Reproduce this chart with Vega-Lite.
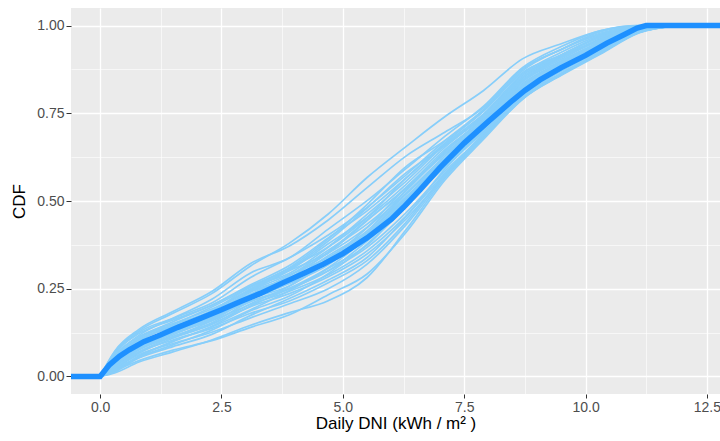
{
  "$schema": "https://vega.github.io/schema/vega-lite/v6.json",
  "width": 649,
  "height": 386,
  "autosize": "none",
  "padding": {"left": 71, "top": 8, "right": 0, "bottom": 47},
  "background": "white",
  "config": {"view": {"fill": "#EBEBEB", "stroke": null}},
  "datasets": {
    "mean": [
      {"x": -1, "y": 0}, {"x": 0, "y": 0}, {"x": 0.19, "y": 0.033}, {"x": 0.4, "y": 0.058}, {"x": 0.6, "y": 0.076},
      {"x": 0.9, "y": 0.099}, {"x": 1.25, "y": 0.119}, {"x": 1.6, "y": 0.14}, {"x": 2.0, "y": 0.162}, {"x": 2.5, "y": 0.19},
      {"x": 2.88, "y": 0.213}, {"x": 3.29, "y": 0.236}, {"x": 3.75, "y": 0.266}, {"x": 4.2, "y": 0.294}, {"x": 4.6, "y": 0.32},
      {"x": 5.0, "y": 0.35}, {"x": 5.5, "y": 0.395}, {"x": 6.0, "y": 0.448}, {"x": 6.25, "y": 0.482}, {"x": 6.59, "y": 0.532},
      {"x": 7.0, "y": 0.595}, {"x": 7.5, "y": 0.665}, {"x": 8.0, "y": 0.727}, {"x": 8.5, "y": 0.787}, {"x": 8.75, "y": 0.815},
      {"x": 9.06, "y": 0.845}, {"x": 9.5, "y": 0.88}, {"x": 10.0, "y": 0.915}, {"x": 10.44, "y": 0.95}, {"x": 10.78, "y": 0.973},
      {"x": 11.06, "y": 0.993}, {"x": 11.25, "y": 1.0}, {"x": 13.5, "y": 1.0}
    ],
    "lines": [
      {"g":"A","x":0,"y":0},{"g":"A","x":0.3,"y":0.07},{"g":"A","x":0.8,"y":0.13},{"g":"A","x":1.5,"y":0.18},{"g":"A","x":2.3,"y":0.236},{"g":"A","x":3.1,"y":0.315},{"g":"A","x":3.9,"y":0.38},{"g":"A","x":4.7,"y":0.463},{"g":"A","x":5.5,"y":0.567},{"g":"A","x":6.3,"y":0.655},{"g":"A","x":7.1,"y":0.74},{"g":"A","x":7.9,"y":0.815},{"g":"A","x":8.7,"y":0.905},{"g":"A","x":9.5,"y":0.948},{"g":"A","x":10.3,"y":0.985},{"g":"A","x":11.1,"y":1.0},{"g":"A","x":11.9,"y":1},
      {"g":"B","x":0,"y":0},{"g":"B","x":0.3,"y":0.01},{"g":"B","x":0.8,"y":0.041},{"g":"B","x":1.5,"y":0.07},{"g":"B","x":2.3,"y":0.104},{"g":"B","x":3.1,"y":0.146},{"g":"B","x":3.9,"y":0.182},{"g":"B","x":4.7,"y":0.216},{"g":"B","x":5.5,"y":0.282},{"g":"B","x":6.3,"y":0.418},{"g":"B","x":7.1,"y":0.565},{"g":"B","x":7.9,"y":0.68},{"g":"B","x":8.7,"y":0.79},{"g":"B","x":9.5,"y":0.86},{"g":"B","x":10.3,"y":0.92},{"g":"B","x":11.1,"y":0.98},{"g":"B","x":11.9,"y":1},
      {"g":"C","x":0,"y":0},{"g":"C","x":0.3,"y":0.064},{"g":"C","x":0.8,"y":0.126},{"g":"C","x":1.5,"y":0.166},{"g":"C","x":2.3,"y":0.22},{"g":"C","x":3.1,"y":0.295},{"g":"C","x":3.9,"y":0.338},{"g":"C","x":4.7,"y":0.42},{"g":"C","x":5.5,"y":0.501},{"g":"C","x":6.3,"y":0.592},{"g":"C","x":7.1,"y":0.684},{"g":"C","x":7.9,"y":0.77},{"g":"C","x":8.7,"y":0.88},{"g":"C","x":9.5,"y":0.94},{"g":"C","x":10.3,"y":0.985},{"g":"C","x":11.1,"y":1.0},{"g":"C","x":11.9,"y":1},
      {"g":"D","x":0,"y":0},{"g":"D","x":0.3,"y":0.058},{"g":"D","x":0.8,"y":0.117},{"g":"D","x":1.5,"y":0.165},{"g":"D","x":2.3,"y":0.209},{"g":"D","x":3.1,"y":0.282},{"g":"D","x":3.9,"y":0.338},{"g":"D","x":4.7,"y":0.403},{"g":"D","x":5.5,"y":0.482},{"g":"D","x":6.3,"y":0.574},{"g":"D","x":7.1,"y":0.671},{"g":"D","x":7.9,"y":0.761},{"g":"D","x":8.7,"y":0.876},{"g":"D","x":9.5,"y":0.932},{"g":"D","x":10.3,"y":0.982},{"g":"D","x":11.1,"y":0.998},{"g":"D","x":11.9,"y":1},
      {"g":"E","x":0,"y":0},{"g":"E","x":0.3,"y":0.052},{"g":"E","x":0.8,"y":0.109},{"g":"E","x":1.5,"y":0.156},{"g":"E","x":2.3,"y":0.203},{"g":"E","x":3.1,"y":0.261},{"g":"E","x":3.9,"y":0.316},{"g":"E","x":4.7,"y":0.395},{"g":"E","x":5.5,"y":0.472},{"g":"E","x":6.3,"y":0.565},{"g":"E","x":7.1,"y":0.665},{"g":"E","x":7.9,"y":0.757},{"g":"E","x":8.7,"y":0.871},{"g":"E","x":9.5,"y":0.932},{"g":"E","x":10.3,"y":0.975},{"g":"E","x":11.1,"y":0.998},{"g":"E","x":11.9,"y":1},
      {"g":"F","x":0,"y":0},{"g":"F","x":0.3,"y":0.046},{"g":"F","x":0.8,"y":0.1},{"g":"F","x":1.5,"y":0.147},{"g":"F","x":2.3,"y":0.198},{"g":"F","x":3.1,"y":0.255},{"g":"F","x":3.9,"y":0.309},{"g":"F","x":4.7,"y":0.369},{"g":"F","x":5.5,"y":0.453},{"g":"F","x":6.3,"y":0.565},{"g":"F","x":7.1,"y":0.662},{"g":"F","x":7.9,"y":0.748},{"g":"F","x":8.7,"y":0.862},{"g":"F","x":9.5,"y":0.924},{"g":"F","x":10.3,"y":0.972},{"g":"F","x":11.1,"y":0.996},{"g":"F","x":11.9,"y":1},
      {"g":"G","x":0,"y":0},{"g":"G","x":0.3,"y":0.04},{"g":"G","x":0.8,"y":0.092},{"g":"G","x":1.5,"y":0.137},{"g":"G","x":2.3,"y":0.187},{"g":"G","x":3.1,"y":0.248},{"g":"G","x":3.9,"y":0.302},{"g":"G","x":4.7,"y":0.378},{"g":"G","x":5.5,"y":0.453},{"g":"G","x":6.3,"y":0.547},{"g":"G","x":7.1,"y":0.653},{"g":"G","x":7.9,"y":0.743},{"g":"G","x":8.7,"y":0.858},{"g":"G","x":9.5,"y":0.916},{"g":"G","x":10.3,"y":0.969},{"g":"G","x":11.1,"y":0.995},{"g":"G","x":11.9,"y":1},
      {"g":"H","x":0,"y":0},{"g":"H","x":0.3,"y":0.034},{"g":"H","x":0.8,"y":0.083},{"g":"H","x":1.5,"y":0.128},{"g":"H","x":2.3,"y":0.17},{"g":"H","x":3.1,"y":0.234},{"g":"H","x":3.9,"y":0.287},{"g":"H","x":4.7,"y":0.352},{"g":"H","x":5.5,"y":0.444},{"g":"H","x":6.3,"y":0.538},{"g":"H","x":7.1,"y":0.646},{"g":"H","x":7.9,"y":0.734},{"g":"H","x":8.7,"y":0.849},{"g":"H","x":9.5,"y":0.908},{"g":"H","x":10.3,"y":0.962},{"g":"H","x":11.1,"y":0.994},{"g":"H","x":11.9,"y":1},
      {"g":"I","x":0,"y":0},{"g":"I","x":0.3,"y":0.028},{"g":"I","x":0.8,"y":0.075},{"g":"I","x":1.5,"y":0.118},{"g":"I","x":2.3,"y":0.165},{"g":"I","x":3.1,"y":0.221},{"g":"I","x":3.9,"y":0.273},{"g":"I","x":4.7,"y":0.344},{"g":"I","x":5.5,"y":0.415},{"g":"I","x":6.3,"y":0.529},{"g":"I","x":7.1,"y":0.64},{"g":"I","x":7.9,"y":0.73},{"g":"I","x":8.7,"y":0.844},{"g":"I","x":9.5,"y":0.904},{"g":"I","x":10.3,"y":0.959},{"g":"I","x":11.1,"y":0.992},{"g":"I","x":11.9,"y":1},
      {"g":"J","x":0,"y":0},{"g":"J","x":0.3,"y":0.022},{"g":"J","x":0.8,"y":0.066},{"g":"J","x":1.5,"y":0.109},{"g":"J","x":2.3,"y":0.148},{"g":"J","x":3.1,"y":0.207},{"g":"J","x":3.9,"y":0.258},{"g":"J","x":4.7,"y":0.327},{"g":"J","x":5.5,"y":0.406},{"g":"J","x":6.3,"y":0.52},{"g":"J","x":7.1,"y":0.628},{"g":"J","x":7.9,"y":0.725},{"g":"J","x":8.7,"y":0.84},{"g":"J","x":9.5,"y":0.9},{"g":"J","x":10.3,"y":0.953},{"g":"J","x":11.1,"y":0.991},{"g":"J","x":11.9,"y":1},
      {"g":"K","x":0,"y":0},{"g":"K","x":0.3,"y":0.016},{"g":"K","x":0.8,"y":0.058},{"g":"K","x":1.5,"y":0.099},{"g":"K","x":2.3,"y":0.143},{"g":"K","x":3.1,"y":0.201},{"g":"K","x":3.9,"y":0.251},{"g":"K","x":4.7,"y":0.31},{"g":"K","x":5.5,"y":0.396},{"g":"K","x":6.3,"y":0.502},{"g":"K","x":7.1,"y":0.621},{"g":"K","x":7.9,"y":0.721},{"g":"K","x":8.7,"y":0.835},{"g":"K","x":9.5,"y":0.896},{"g":"K","x":10.3,"y":0.949},{"g":"K","x":11.1,"y":0.99},{"g":"K","x":11.9,"y":1},
      {"g":"L","x":0,"y":0},{"g":"L","x":0.3,"y":0.013},{"g":"L","x":0.8,"y":0.054},{"g":"L","x":1.5,"y":0.09},{"g":"L","x":2.3,"y":0.132},{"g":"L","x":3.1,"y":0.187},{"g":"L","x":3.9,"y":0.229},{"g":"L","x":4.7,"y":0.293},{"g":"L","x":5.5,"y":0.377},{"g":"L","x":6.3,"y":0.484},{"g":"L","x":7.1,"y":0.609},{"g":"L","x":7.9,"y":0.712},{"g":"L","x":8.7,"y":0.826},{"g":"L","x":9.5,"y":0.892},{"g":"L","x":10.3,"y":0.943},{"g":"L","x":11.1,"y":0.988},{"g":"L","x":11.9,"y":1},
      {"g":"M","x":0,"y":0},{"g":"M","x":0.3,"y":0.067},{"g":"M","x":0.8,"y":0.122},{"g":"M","x":1.5,"y":0.161},{"g":"M","x":2.3,"y":0.203},{"g":"M","x":3.1,"y":0.258},{"g":"M","x":3.9,"y":0.302},{"g":"M","x":4.7,"y":0.352},{"g":"M","x":5.5,"y":0.425},{"g":"M","x":6.3,"y":0.52},{"g":"M","x":7.1,"y":0.621},{"g":"M","x":7.9,"y":0.716},{"g":"M","x":8.7,"y":0.822},{"g":"M","x":9.5,"y":0.884},{"g":"M","x":10.3,"y":0.94},{"g":"M","x":11.1,"y":0.985},{"g":"M","x":11.9,"y":1},
      {"g":"N","x":0,"y":0},{"g":"N","x":0.3,"y":0.061},{"g":"N","x":0.8,"y":0.113},{"g":"N","x":1.5,"y":0.151},{"g":"N","x":2.3,"y":0.192},{"g":"N","x":3.1,"y":0.245},{"g":"N","x":3.9,"y":0.29},{"g":"N","x":4.7,"y":0.34},{"g":"N","x":5.5,"y":0.41},{"g":"N","x":6.3,"y":0.511},{"g":"N","x":7.1,"y":0.615},{"g":"N","x":7.9,"y":0.709},{"g":"N","x":8.7,"y":0.813},{"g":"N","x":9.5,"y":0.876},{"g":"N","x":10.3,"y":0.933},{"g":"N","x":11.1,"y":0.984},{"g":"N","x":11.9,"y":1},
      {"g":"O","x":0,"y":0},{"g":"O","x":0.3,"y":0.055},{"g":"O","x":0.8,"y":0.105},{"g":"O","x":1.5,"y":0.142},{"g":"O","x":2.3,"y":0.181},{"g":"O","x":3.1,"y":0.232},{"g":"O","x":3.9,"y":0.27},{"g":"O","x":4.7,"y":0.325},{"g":"O","x":5.5,"y":0.392},{"g":"O","x":6.3,"y":0.493},{"g":"O","x":7.1,"y":0.596},{"g":"O","x":7.9,"y":0.698},{"g":"O","x":8.7,"y":0.804},{"g":"O","x":9.5,"y":0.872},{"g":"O","x":10.3,"y":0.93},{"g":"O","x":11.1,"y":0.982},{"g":"O","x":11.9,"y":1},
      {"g":"P","x":0,"y":0},{"g":"P","x":0.3,"y":0.049},{"g":"P","x":0.8,"y":0.096},{"g":"P","x":1.5,"y":0.132},{"g":"P","x":2.3,"y":0.168},{"g":"P","x":3.1,"y":0.214},{"g":"P","x":3.9,"y":0.249},{"g":"P","x":4.7,"y":0.301},{"g":"P","x":5.5,"y":0.368},{"g":"P","x":6.3,"y":0.466},{"g":"P","x":7.1,"y":0.584},{"g":"P","x":7.9,"y":0.689},{"g":"P","x":8.7,"y":0.799},{"g":"P","x":9.5,"y":0.864},{"g":"P","x":10.3,"y":0.923},{"g":"P","x":11.1,"y":0.981},{"g":"P","x":11.9,"y":1},
      {"g":"Q","x":0,"y":0},{"g":"Q","x":0.3,"y":0.043},{"g":"Q","x":0.8,"y":0.088},{"g":"Q","x":1.5,"y":0.123},{"g":"Q","x":2.3,"y":0.159},{"g":"Q","x":3.1,"y":0.205},{"g":"Q","x":3.9,"y":0.243},{"g":"Q","x":4.7,"y":0.29},{"g":"Q","x":5.5,"y":0.358},{"g":"Q","x":6.3,"y":0.457},{"g":"Q","x":7.1,"y":0.578},{"g":"Q","x":7.9,"y":0.685},{"g":"Q","x":8.7,"y":0.795},{"g":"Q","x":9.5,"y":0.86},{"g":"Q","x":10.3,"y":0.92},{"g":"Q","x":11.1,"y":0.98},{"g":"Q","x":11.9,"y":1},
      {"g":"R","x":0,"y":0},{"g":"R","x":0.3,"y":0.037},{"g":"R","x":0.8,"y":0.079},{"g":"R","x":1.5,"y":0.113},{"g":"R","x":2.3,"y":0.15},{"g":"R","x":3.1,"y":0.199},{"g":"R","x":3.9,"y":0.236},{"g":"R","x":4.7,"y":0.284},{"g":"R","x":5.5,"y":0.349},{"g":"R","x":6.3,"y":0.448},{"g":"R","x":7.1,"y":0.571},{"g":"R","x":7.9,"y":0.684},{"g":"R","x":8.7,"y":0.792},{"g":"R","x":9.5,"y":0.858},{"g":"R","x":10.3,"y":0.918},{"g":"R","x":11.1,"y":0.979},{"g":"R","x":11.9,"y":1},
      {"g":"S","x":0,"y":0},{"g":"S","x":0.3,"y":0.031},{"g":"S","x":0.8,"y":0.07},{"g":"S","x":1.5,"y":0.104},{"g":"S","x":2.3,"y":0.137},{"g":"S","x":3.1,"y":0.18},{"g":"S","x":3.9,"y":0.215},{"g":"S","x":4.7,"y":0.267},{"g":"S","x":5.5,"y":0.33},{"g":"S","x":6.3,"y":0.439},{"g":"S","x":7.1,"y":0.576},{"g":"S","x":7.9,"y":0.69},{"g":"S","x":8.7,"y":0.8},{"g":"S","x":9.5,"y":0.87},{"g":"S","x":10.3,"y":0.927},{"g":"S","x":11.1,"y":0.982},{"g":"S","x":11.9,"y":1},
      {"g":"T","x":0,"y":0},{"g":"T","x":0.3,"y":0.025},{"g":"T","x":0.8,"y":0.062},{"g":"T","x":1.5,"y":0.094},{"g":"T","x":2.3,"y":0.126},{"g":"T","x":3.1,"y":0.167},{"g":"T","x":3.9,"y":0.207},{"g":"T","x":4.7,"y":0.25},{"g":"T","x":5.5,"y":0.32},{"g":"T","x":6.3,"y":0.432},{"g":"T","x":7.1,"y":0.57},{"g":"T","x":7.9,"y":0.694},{"g":"T","x":8.7,"y":0.808},{"g":"T","x":9.5,"y":0.876},{"g":"T","x":10.3,"y":0.933},{"g":"T","x":11.1,"y":0.984},{"g":"T","x":11.9,"y":1},
      {"g":"U","x":0,"y":0},{"g":"U","x":0.3,"y":0.019},{"g":"U","x":0.8,"y":0.053},{"g":"U","x":1.5,"y":0.085},{"g":"U","x":2.3,"y":0.12},{"g":"U","x":3.1,"y":0.174},{"g":"U","x":3.9,"y":0.222},{"g":"U","x":4.7,"y":0.275},{"g":"U","x":5.5,"y":0.339},{"g":"U","x":6.3,"y":0.455},{"g":"U","x":7.1,"y":0.59},{"g":"U","x":7.9,"y":0.703},{"g":"U","x":8.7,"y":0.817},{"g":"U","x":9.5,"y":0.882},{"g":"U","x":10.3,"y":0.94},{"g":"U","x":11.1,"y":0.986},{"g":"U","x":11.9,"y":1},
      {"g":"V","x":0,"y":0},{"g":"V","x":0.3,"y":0.038},{"g":"V","x":0.8,"y":0.085},{"g":"V","x":1.5,"y":0.127},{"g":"V","x":2.3,"y":0.176},{"g":"V","x":3.1,"y":0.241},{"g":"V","x":3.9,"y":0.28},{"g":"V","x":4.7,"y":0.335},{"g":"V","x":5.5,"y":0.405},{"g":"V","x":6.3,"y":0.505},{"g":"V","x":7.1,"y":0.607},{"g":"V","x":7.9,"y":0.707},{"g":"V","x":8.7,"y":0.812},{"g":"V","x":9.5,"y":0.88},{"g":"V","x":10.3,"y":0.936},{"g":"V","x":11.1,"y":0.984},{"g":"V","x":11.9,"y":1},
      {"g":"W","x":0,"y":0},{"g":"W","x":0.3,"y":0.045},{"g":"W","x":0.8,"y":0.094},{"g":"W","x":1.5,"y":0.13},{"g":"W","x":2.3,"y":0.163},{"g":"W","x":3.1,"y":0.228},{"g":"W","x":3.9,"y":0.28},{"g":"W","x":4.7,"y":0.355},{"g":"W","x":5.5,"y":0.446},{"g":"W","x":6.3,"y":0.535},{"g":"W","x":7.1,"y":0.634},{"g":"W","x":7.9,"y":0.727},{"g":"W","x":8.7,"y":0.83},{"g":"W","x":9.5,"y":0.898},{"g":"W","x":10.3,"y":0.95},{"g":"W","x":11.1,"y":0.988},{"g":"W","x":11.9,"y":1},
      {"g":"X","x":0,"y":0},{"g":"X","x":0.3,"y":0.03},{"g":"X","x":0.8,"y":0.079},{"g":"X","x":1.5,"y":0.123},{"g":"X","x":2.3,"y":0.172},{"g":"X","x":3.1,"y":0.243},{"g":"X","x":3.9,"y":0.305},{"g":"X","x":4.7,"y":0.386},{"g":"X","x":5.5,"y":0.48},{"g":"X","x":6.3,"y":0.58},{"g":"X","x":7.1,"y":0.657},{"g":"X","x":7.9,"y":0.745},{"g":"X","x":8.7,"y":0.853},{"g":"X","x":9.5,"y":0.912},{"g":"X","x":10.3,"y":0.959},{"g":"X","x":11.1,"y":0.991},{"g":"X","x":11.9,"y":1},
      {"g":"Y","x":0,"y":0},{"g":"Y","x":0.3,"y":0.036},{"g":"Y","x":0.8,"y":0.087},{"g":"Y","x":1.5,"y":0.133},{"g":"Y","x":2.3,"y":0.184},{"g":"Y","x":3.1,"y":0.25},{"g":"Y","x":3.9,"y":0.31},{"g":"Y","x":4.7,"y":0.392},{"g":"Y","x":5.5,"y":0.49},{"g":"Y","x":6.3,"y":0.598},{"g":"Y","x":7.1,"y":0.672},{"g":"Y","x":7.9,"y":0.756},{"g":"Y","x":8.7,"y":0.866},{"g":"Y","x":9.5,"y":0.916},{"g":"Y","x":10.3,"y":0.966},{"g":"Y","x":11.1,"y":0.993},{"g":"Y","x":11.9,"y":1},
      {"g":"Z","x":0,"y":0},{"g":"Z","x":0.3,"y":0.021},{"g":"Z","x":0.8,"y":0.057},{"g":"Z","x":1.5,"y":0.101},{"g":"Z","x":2.3,"y":0.141},{"g":"Z","x":3.1,"y":0.19},{"g":"Z","x":3.9,"y":0.245},{"g":"Z","x":4.7,"y":0.308},{"g":"Z","x":5.5,"y":0.374},{"g":"Z","x":6.3,"y":0.49},{"g":"Z","x":7.1,"y":0.6},{"g":"Z","x":7.9,"y":0.705},{"g":"Z","x":8.7,"y":0.82},{"g":"Z","x":9.5,"y":0.888},{"g":"Z","x":10.3,"y":0.946},{"g":"Z","x":11.1,"y":0.987},{"g":"Z","x":11.9,"y":1},
      {"g":"AA","x":0,"y":0},{"g":"AA","x":0.3,"y":0.072},{"g":"AA","x":0.8,"y":0.134},{"g":"AA","x":1.5,"y":0.185},{"g":"AA","x":2.3,"y":0.242},{"g":"AA","x":3.1,"y":0.322},{"g":"AA","x":3.9,"y":0.372},{"g":"AA","x":4.7,"y":0.446},{"g":"AA","x":5.5,"y":0.538},{"g":"AA","x":6.3,"y":0.628},{"g":"AA","x":7.1,"y":0.696},{"g":"AA","x":7.9,"y":0.766},{"g":"AA","x":8.7,"y":0.876},{"g":"AA","x":9.5,"y":0.932},{"g":"AA","x":10.3,"y":0.978},{"g":"AA","x":11.1,"y":0.997},{"g":"AA","x":11.9,"y":1},
      {"g":"BB","x":0,"y":0},{"g":"BB","x":0.3,"y":0.016},{"g":"BB","x":0.8,"y":0.045},{"g":"BB","x":1.5,"y":0.075},{"g":"BB","x":2.3,"y":0.102},{"g":"BB","x":3.1,"y":0.14},{"g":"BB","x":3.9,"y":0.176},{"g":"BB","x":4.7,"y":0.233},{"g":"BB","x":5.5,"y":0.292},{"g":"BB","x":6.3,"y":0.41},{"g":"BB","x":7.1,"y":0.559},{"g":"BB","x":7.9,"y":0.676},{"g":"BB","x":8.7,"y":0.79},{"g":"BB","x":9.5,"y":0.864},{"g":"BB","x":10.3,"y":0.923},{"g":"BB","x":11.1,"y":0.981},{"g":"BB","x":11.9,"y":1},
      {"g":"CC","x":0,"y":0},{"g":"CC","x":0.3,"y":0.043},{"g":"CC","x":0.8,"y":0.096},{"g":"CC","x":1.5,"y":0.132},{"g":"CC","x":2.3,"y":0.181},{"g":"CC","x":3.1,"y":0.234},{"g":"CC","x":3.9,"y":0.287},{"g":"CC","x":4.7,"y":0.36},{"g":"CC","x":5.5,"y":0.434},{"g":"CC","x":6.3,"y":0.529},{"g":"CC","x":7.1,"y":0.64},{"g":"CC","x":7.9,"y":0.738},{"g":"CC","x":8.7,"y":0.844},{"g":"CC","x":9.5,"y":0.912},{"g":"CC","x":10.3,"y":0.959},{"g":"CC","x":11.1,"y":0.992},{"g":"CC","x":11.9,"y":1},
      {"g":"DD","x":0,"y":0},{"g":"DD","x":0.3,"y":0.031},{"g":"DD","x":0.8,"y":0.079},{"g":"DD","x":1.5,"y":0.113},{"g":"DD","x":2.3,"y":0.159},{"g":"DD","x":3.1,"y":0.221},{"g":"DD","x":3.9,"y":0.258},{"g":"DD","x":4.7,"y":0.326},{"g":"DD","x":5.5,"y":0.396},{"g":"DD","x":6.3,"y":0.511},{"g":"DD","x":7.1,"y":0.615},{"g":"DD","x":7.9,"y":0.716},{"g":"DD","x":8.7,"y":0.83},{"g":"DD","x":9.5,"y":0.892},{"g":"DD","x":10.3,"y":0.949},{"g":"DD","x":11.1,"y":0.988},{"g":"DD","x":11.9,"y":1},
      {"g":"EE","x":0,"y":0},{"g":"EE","x":0.3,"y":0.049},{"g":"EE","x":0.8,"y":0.104},{"g":"EE","x":1.5,"y":0.142},{"g":"EE","x":2.3,"y":0.181},{"g":"EE","x":3.1,"y":0.241},{"g":"EE","x":3.9,"y":0.28},{"g":"EE","x":4.7,"y":0.335},{"g":"EE","x":5.5,"y":0.424},{"g":"EE","x":6.3,"y":0.538},{"g":"EE","x":7.1,"y":0.634},{"g":"EE","x":7.9,"y":0.725},{"g":"EE","x":8.7,"y":0.84},{"g":"EE","x":9.5,"y":0.908},{"g":"EE","x":10.3,"y":0.956},{"g":"EE","x":11.1,"y":0.99},{"g":"EE","x":11.9,"y":1},
      {"g":"FF","x":0,"y":0},{"g":"FF","x":0.3,"y":0.025},{"g":"FF","x":0.8,"y":0.07},{"g":"FF","x":1.5,"y":0.113},{"g":"FF","x":2.3,"y":0.153},{"g":"FF","x":3.1,"y":0.214},{"g":"FF","x":3.9,"y":0.251},{"g":"FF","x":4.7,"y":0.301},{"g":"FF","x":5.5,"y":0.386},{"g":"FF","x":6.3,"y":0.484},{"g":"FF","x":7.1,"y":0.609},{"g":"FF","x":7.9,"y":0.707},{"g":"FF","x":8.7,"y":0.822},{"g":"FF","x":9.5,"y":0.888},{"g":"FF","x":10.3,"y":0.94},{"g":"FF","x":11.1,"y":0.986},{"g":"FF","x":11.9,"y":1},
      {"g":"GG","x":0,"y":0},{"g":"GG","x":0.3,"y":0.037},{"g":"GG","x":0.8,"y":0.079},{"g":"GG","x":1.5,"y":0.123},{"g":"GG","x":2.3,"y":0.17},{"g":"GG","x":3.1,"y":0.221},{"g":"GG","x":3.9,"y":0.265},{"g":"GG","x":4.7,"y":0.318},{"g":"GG","x":5.5,"y":0.406},{"g":"GG","x":6.3,"y":0.52},{"g":"GG","x":7.1,"y":0.621},{"g":"GG","x":7.9,"y":0.725},{"g":"GG","x":8.7,"y":0.83},{"g":"GG","x":9.5,"y":0.896},{"g":"GG","x":10.3,"y":0.953},{"g":"GG","x":11.1,"y":0.989},{"g":"GG","x":11.9,"y":1},
      {"g":"HH","x":0,"y":0},{"g":"HH","x":0.3,"y":0.055},{"g":"HH","x":0.8,"y":0.109},{"g":"HH","x":1.5,"y":0.147},{"g":"HH","x":2.3,"y":0.187},{"g":"HH","x":3.1,"y":0.255},{"g":"HH","x":3.9,"y":0.294},{"g":"HH","x":4.7,"y":0.369},{"g":"HH","x":5.5,"y":0.462},{"g":"HH","x":6.3,"y":0.556},{"g":"HH","x":7.1,"y":0.659},{"g":"HH","x":7.9,"y":0.739},{"g":"HH","x":8.7,"y":0.853},{"g":"HH","x":9.5,"y":0.916},{"g":"HH","x":10.3,"y":0.966},{"g":"HH","x":11.1,"y":0.993},{"g":"HH","x":11.9,"y":1}
    ]
  },
  "layer": [
    {
      "data": {"name": "lines"},
      "mark": {"type": "line", "color": "#87CEFA", "strokeWidth": 1.7, "interpolate": "monotone", "clip": true},
      "encoding": {
        "x": {"field": "x", "type": "quantitative", "scale": {"domain": [-0.6, 12.77], "nice": false, "zero": false},
          "axis": {
            "title": "Daily DNI (kWh / m\u00b2 )",
            "values": [0, 1.25, 2.5, 3.75, 5, 6.25, 7.5, 8.75, 10, 11.25, 12.5],
            "labelExpr": "datum.value % 2.5 == 0 ? format(datum.value, '.1f') : ''",
            "gridColor": "white",
            "gridWidth": {"condition": {"test": "datum.value % 2.5 != 0", "value": 0.6}, "value": 1.3},
            "tickOpacity": {"condition": {"test": "datum.value % 2.5 != 0", "value": 0}, "value": 1},
            "domain": false, "tickColor": "#333333", "tickSize": 4, "tickWidth": 1,
            "labelColor": "#4D4D4D", "labelFontSize": 14, "labelFont": "Liberation Sans", "labelPadding": 2,
            "labelOverlap": false, "labelFlush": false,
            "titleFont": "Liberation Sans", "titleFontSize": 17, "titleFontWeight": "normal", "titleColor": "black", "titlePadding": 1
          }},
        "y": {"field": "y", "type": "quantitative", "scale": {"domain": [-0.05, 1.05], "nice": false, "zero": false},
          "axis": {
            "title": "CDF",
            "values": [0, 0.125, 0.25, 0.375, 0.5, 0.625, 0.75, 0.875, 1],
            "labelExpr": "datum.value % 0.25 == 0 ? format(datum.value, '.2f') : ''",
            "gridColor": "white",
            "gridWidth": {"condition": {"test": "datum.value % 0.25 != 0", "value": 0.6}, "value": 1.3},
            "tickOpacity": {"condition": {"test": "datum.value % 0.25 != 0", "value": 0}, "value": 1},
            "domain": false, "tickColor": "#333333", "tickSize": 5, "tickWidth": 1,
            "labelColor": "#4D4D4D", "labelFontSize": 14, "labelFont": "Liberation Sans", "labelPadding": 2,
            "labelOverlap": false, "labelFlush": false,
            "titleFont": "Liberation Sans", "titleFontSize": 17, "titleFontWeight": "normal", "titleColor": "black", "titlePadding": 8
          }},
        "detail": {"field": "g", "type": "nominal"}
      }
    },
    {
      "data": {"name": "mean"},
      "mark": {"type": "line", "color": "#1E90FF", "strokeWidth": 5.5, "clip": true},
      "encoding": {
        "x": {"field": "x", "type": "quantitative"},
        "y": {"field": "y", "type": "quantitative"}
      }
    }
  ]
}
